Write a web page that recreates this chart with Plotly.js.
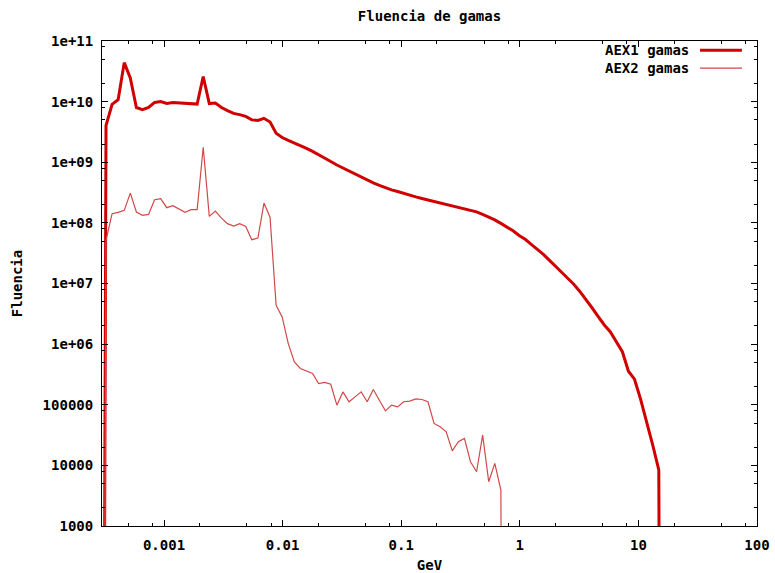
<!DOCTYPE html>
<html>
<head>
<meta charset="utf-8">
<script src="https://cdn.plot.ly/plotly-3.0.1.min.js"></script>
<style>html,body{margin:0;padding:0;background:#fff;}#chart{width:775px;height:573px;}</style>
</head>
<body>
<div id="chart"></div>
<script>
// Energy bins (GeV)
const energyGeV = [2.882e-4, 3.243e-4, 3.649e-4, 4.106e-4, 4.620e-4, 5.198e-4, 5.849e-4, 6.581e-4, 7.405e-4, 8.332e-4, 9.376e-4,
  1.055e-3, 1.187e-3, 1.336e-3, 1.503e-3, 1.691e-3, 1.903e-3, 2.141e-3, 2.409e-3, 2.710e-3, 3.050e-3,
  3.431e-3, 3.861e-3, 4.344e-3, 4.888e-3, 5.500e-3, 6.189e-3, 6.963e-3, 7.835e-3, 8.816e-3, 9.917e-3,
  1.116e-2, 1.256e-2, 1.413e-2, 1.590e-2, 1.789e-2, 2.013e-2, 2.265e-2, 2.548e-2, 2.867e-2, 3.226e-2,
  3.630e-2, 4.083e-2, 4.595e-2, 5.170e-2, 5.817e-2, 6.545e-2, 7.365e-2, 8.286e-2, 9.324e-2, 0.1049,
  0.1180, 0.1328, 0.1494, 0.1681, 0.1892, 0.2129, 0.2395, 0.2695, 0.3033, 0.3412,
  0.3839, 0.4320, 0.4861, 0.5470, 0.6154, 0.6925, 0.7792, 0.8767, 0.9863, 1.110,
  1.249, 1.405, 1.581, 1.779, 2.002, 2.252, 2.534, 2.851, 3.208, 3.610,
  4.062, 4.570, 5.140, 5.785, 6.509, 7.324, 8.240, 9.271, 10.43, 11.74,
  13.21, 14.86, 16.72];

// AEX1 gamas fluence (1e-20 = empty bin)
const aex1 = [1e-20, 4.04e9, 9.0e9, 1.08e10, 4.40e10, 2.45e10, 8.0e9, 7.4e9, 8.0e9, 9.7e9, 1.0e10,
  9.3e9, 9.7e9, 9.5e9, 9.3e9, 9.3e9, 9.1e9, 2.6e10, 9.3e9, 9.5e9, 8.0e9,
  7.1e9, 6.4e9, 6.1e9, 5.7e9, 5.0e9, 4.9e9, 5.3e9, 4.6e9, 3.0e9, 2.56e9,
  2.29e9, 2.08e9, 1.89e9, 1.69e9, 1.51e9, 1.34e9, 1.18e9, 1.03e9, 9.0e8, 8.05e8,
  7.2e8, 6.3e8, 5.6e8, 5.0e8, 4.56e8, 4.15e8, 3.77e8, 3.5e8, 3.3e8, 3.06e8,
  2.89e8, 2.68e8, 2.53e8, 2.39e8, 2.26e8, 2.13e8, 2.02e8, 1.94e8, 1.83e8, 1.73e8,
  1.61e8, 1.52e8, 1.38e8, 1.26e8, 1.12e8, 9.8e7, 8.6e7, 7.4e7, 6.2e7, 5.35e7,
  4.43e7, 3.66e7, 3.03e7, 2.41e7, 1.88e7, 1.53e7, 1.22e7, 9.7e6, 7.4e6, 5.5e6,
  3.98e6, 2.88e6, 2.09e6, 1.6e6, 1.07e6, 7.5e5, 3.57e5, 2.64e5, 1.24e5, 5.4e4,
  2.16e4, 8.4e3, 1e-20];

// AEX2 gamas fluence (1e-20 = empty bin)
const aex2 = [1e-20, 5.15e7, 1.42e8, 1.49e8, 1.61e8, 3.1e8, 1.51e8, 1.33e8, 1.38e8, 2.41e8, 2.5e8,
  1.78e8, 1.92e8, 1.71e8, 1.49e8, 1.65e8, 1.65e8, 1.77e9, 1.28e8, 1.56e8, 1.2e8,
  9.7e7, 8.85e7, 9.7e7, 8.75e7, 5.28e7, 5.62e7, 2.12e8, 1.24e8, 4.37e6, 2.81e6,
  1.02e6, 5.09e5, 3.96e5, 3.58e5, 3.28e5, 2.24e5, 2.33e5, 2.18e5, 9.85e4, 1.63e5,
  1.12e5, 1.35e5, 1.63e5, 1.12e5, 1.79e5, 1.19e5, 7.93e4, 9.85e4, 9.23e4, 1.12e5,
  1.15e5, 1.25e5, 1.22e5, 1.12e5, 4.92e4, 4.33e4, 3.57e4, 1.74e4, 2.45e4, 2.79e4,
  1.15e4, 7.85e3, 3.16e4, 5.37e3, 1.08e4, 3.9e3, 1e-20];

const seriesNames = ['AEX1 gamas', 'AEX2 gamas'];

const xTickVals = [0.001, 0.01, 0.1, 1, 10, 100];
const xTickText = ['0.001', '0.01', '0.1', '1', '10', '100'];
const xMinorVals = [0.0005, 0.0008, 0.002, 0.005, 0.008, 0.02, 0.05, 0.08, 0.2, 0.5, 0.8, 2, 5, 8, 20, 50, 80];

const yTickVals = [1e3, 1e4, 1e5, 1e6, 1e7, 1e8, 1e9, 1e10, 1e11];
const yTickText = ['1000', '10000', '100000', '1e+06', '1e+07', '1e+08', '1e+09', '1e+10', '1e+11'];
const yMinorVals = [2e3, 5e3, 8e3, 2e4, 5e4, 8e4, 2e5, 5e5, 8e5, 2e6, 5e6, 8e6, 2e7, 5e7, 8e7,
  2e8, 5e8, 8e8, 2e9, 5e9, 8e9, 2e10, 5e10, 8e10];

const FONT = {family: '"DejaVu Sans Mono", monospace', size: 14, color: '#000', weight: 'bold'};
const COLOR1 = '#d00000';
const COLOR2 = '#d24848';

const traces = [
  {x: energyGeV, y: aex1, name: seriesNames[0], type: 'scatter', mode: 'lines',
   line: {color: COLOR1, width: 3}, hoverinfo: 'x+y+name'},
  {x: energyGeV, y: aex2, name: seriesNames[1], type: 'scatter', mode: 'lines',
   line: {color: COLOR2, width: 1.2}, hoverinfo: 'x+y+name'}
];

function axisBase() {
  return {
    type: 'log', tickmode: 'array', ticks: 'inside', ticklen: 6, tickwidth: 1, tickcolor: '#000',
    showline: true, linecolor: '#000', linewidth: 1, mirror: 'allticks',
    showgrid: false, zeroline: false, automargin: false, tickfont: FONT
  };
}

const xaxis = Object.assign(axisBase(), {
  range: [Math.log10(0.0003), 2], tickvals: xTickVals, ticktext: xTickText,
  ticklabelstandoff: 6,
  minor: {tickmode: 'array', tickvals: xMinorVals, ticks: 'inside', ticklen: 3, tickcolor: '#000', showgrid: false},
  title: {text: 'GeV', font: FONT, standoff: 10}
});
const yaxis = Object.assign(axisBase(), {
  range: [3, 11], tickvals: yTickVals, ticktext: yTickText,
  ticklabelstandoff: 5,
  minor: {tickmode: 'array', tickvals: yMinorVals, ticks: 'inside', ticklen: 3, tickcolor: '#000', showgrid: false},
  title: {text: 'Fluencia', font: FONT, standoff: 16}
});

// gnuplot-style key: text then line sample, top right inside the frame
const keyTextX = 0.899, keyLineX0 = 0.913, keyLineX1 = 0.977;
const keyRowY = [0.981, 0.944];

const layout = {
  width: 775, height: 573,
  margin: {l: 102, r: 18, t: 41, b: 47, pad: 0},
  paper_bgcolor: '#fff', plot_bgcolor: '#fff',
  font: FONT,
  title: {text: 'Fluencia de gamas', font: FONT, x: 0.5, xref: 'paper', xanchor: 'center',
          y: 1 - 16 / 573, yref: 'container', yanchor: 'middle'},
  xaxis: xaxis, yaxis: yaxis,
  showlegend: false,
  annotations: seriesNames.map((n, i) => ({
    text: n, xref: 'paper', yref: 'paper', x: keyTextX, y: keyRowY[i],
    xanchor: 'right', yanchor: 'middle', showarrow: false, font: FONT
  })),
  shapes: [
    {type: 'line', xref: 'paper', yref: 'paper', x0: keyLineX0, x1: keyLineX1, y0: keyRowY[0], y1: keyRowY[0],
     line: {color: COLOR1, width: 3}},
    {type: 'line', xref: 'paper', yref: 'paper', x0: keyLineX0, x1: keyLineX1, y0: keyRowY[1], y1: keyRowY[1],
     line: {color: COLOR2, width: 1.2}}
  ]
};

Plotly.newPlot('chart', traces, layout, {displayModeBar: false, staticPlot: true});
</script>
</body>
</html>
